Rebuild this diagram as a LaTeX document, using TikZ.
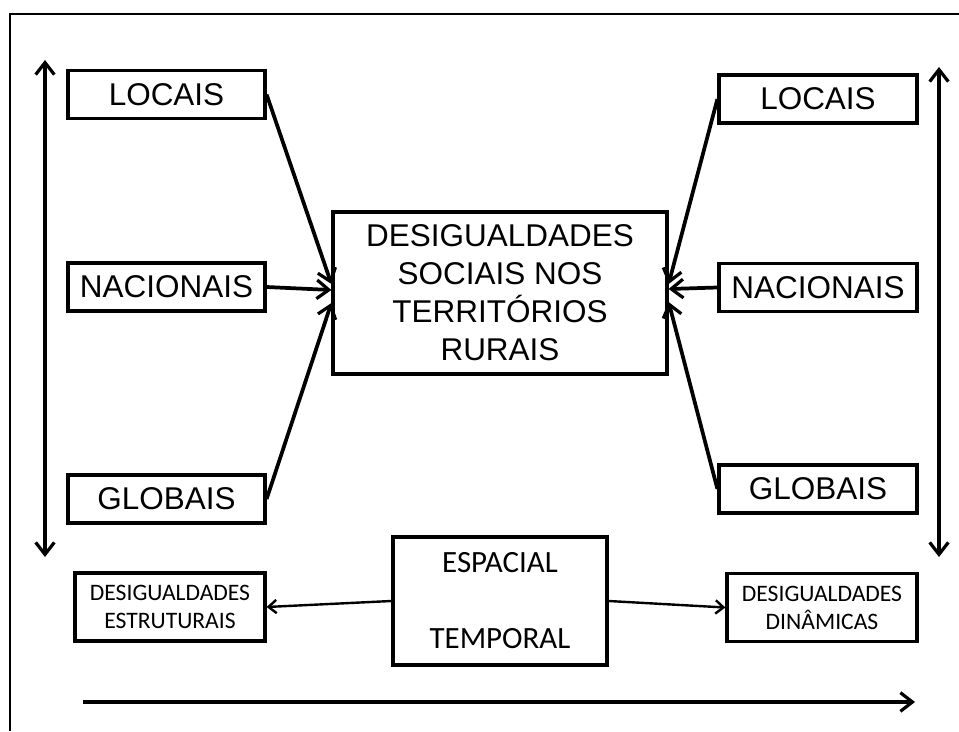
\documentclass[tikz,border=0pt]{standalone}
\usepackage{fontspec}
\newfontfamily\arialfont{Liberation Sans}
\newfontfamily\calibrifont{Carlito}
\usetikzlibrary{arrows.meta,calc}

\tikzset{every picture/.style={line width=0.75pt}}
\tikzset{
  levelbox/.style={draw, line width=2.4pt, inner sep=0pt, minimum width=147.75pt, minimum height=36pt,
    font=\arialfont\fontsize{23.6}{28.5}\selectfont},
  mainbox/.style={draw, line width=2.4pt, inner sep=0pt, align=center, minimum width=250.5pt, minimum height=121.5pt,
    font=\arialfont\fontsize{23.6}{28.5}\selectfont},
  axisbox/.style={draw, line width=2.4pt, inner sep=0pt, align=center, minimum width=160.5pt, minimum height=96pt,
    font=\calibrifont\fontsize{23.2}{28.5}\selectfont},
  kindbox/.style={draw, line width=2.4pt, inner sep=0pt, align=center, minimum width=142.5pt, minimum height=51pt,
    font=\calibrifont\fontsize{17.7}{21}\selectfont},
  barb/.style={Straight Barb[length=9pt,width=14pt,line width=2.4pt]},
  bigarrow/.style={line width=2.8pt, -{Straight Barb[length=9pt,width=14pt,line width=2.4pt]}},
  smallarrow/.style={line width=1.8pt, -{Straight Barb[length=6pt,width=10pt]}},
}

\begin{document}
\begin{tikzpicture}[x=0.75pt,y=0.75pt,yscale=-1,xscale=1]
\useasboundingbox (0,0) rectangle (959,731);

% Frame
\draw [line width=2pt] (10,731) -- (10,14) -- (959,14);

% Text Node
\node [levelbox] (locL) at (166.5,94.5) {LOCAIS};
\node [levelbox] (nacL) at (166.5,287) {NACIONAIS};
\node [levelbox] (gloL) at (166.5,499) {GLOBAIS};
% Text Node
\node [levelbox, minimum width=148.5pt] (locR) at (818,99) {LOCAIS};
\node [levelbox, minimum width=148.5pt] (nacR) at (818,287.5) {NACIONAIS};
\node [levelbox, minimum width=148.5pt] (gloR) at (818,489) {GLOBAIS};
% Text Node
\node [mainbox] (central) at (500,293) {DESIGUALDADES\\SOCIAIS NOS\\TERRITÓRIOS\\RURAIS};
% Text Node
\node [axisbox] (esptemp) at (500,601) {ESPACIAL\\[28.5pt]TEMPORAL};
\node [kindbox] (estr) at (170,607) {DESIGUALDADES\\ESTRUTURAIS};
\node [kindbox] (dina) at (822,607.5) {DESIGUALDADES\\DINÂMICAS};

% Scale axes
\coordinate (leftTop) at (45,60);
\coordinate (leftBot) at (45,557);
\coordinate (rightTop) at (939,67);
\coordinate (rightBot) at (939,557);
\coordinate (timeStart) at (83,702);
\coordinate (timeEnd) at (915,702);
\draw [line width=2.8pt, {Straight Barb[length=9pt,width=14pt,line width=2.4pt]}-{Straight Barb[length=9pt,width=14pt,line width=2.4pt]}] (leftBot) -- (leftTop);
\draw [line width=2.8pt, {Straight Barb[length=9pt,width=14pt,line width=2.4pt]}-{Straight Barb[length=9pt,width=14pt,line width=2.4pt]}] (rightBot) -- (rightTop);
\draw [bigarrow] (timeStart) -- (timeEnd);

% Connection
\draw [bigarrow] (locL.east) -- ($(central.west)+(0,-9)$);
\draw [bigarrow] (nacL.east) -- ($(central.west)+(0,-3)$);
\draw [bigarrow] (gloL.east) -- ($(central.west)+(0,10)$);
% Connection
\draw [bigarrow] (locR.west) -- ($(central.east)+(0,-9)$);
\draw [bigarrow] (nacR.west) -- ($(central.east)+(0,-4)$);
\draw [bigarrow] (gloR.west) -- ($(central.east)+(0,9)$);
% Connection
\draw [smallarrow] (esptemp.west) -- (estr.east);
\draw [smallarrow] (esptemp.east) -- (dina.west);

\end{tikzpicture}
\end{document}
